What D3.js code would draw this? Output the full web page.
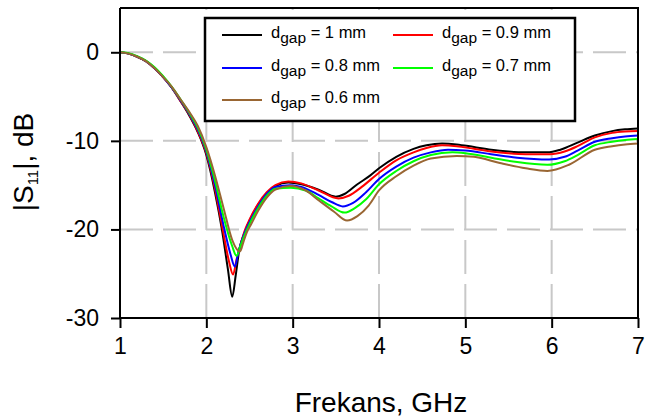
<!DOCTYPE html>
<html>
<head>
<meta charset="utf-8">
<script src="https://cdnjs.cloudflare.com/ajax/libs/d3/7.8.5/d3.min.js"></script>
<style>
body { margin: 0; background: #fff; }
text { font-family: "Liberation Sans", Arial, sans-serif; fill: #000; }
</style>
</head>
<body>
<script>
(function(){

//frequencies (GHz) and |S11| (dB), one pair of arrays per gap
var f_10 = [1,1.1,1.2,1.3,1.4,1.5,1.6,1.7,1.8,1.9,2.0,2.1,2.18,2.25,2.3,2.34,2.38,2.45,2.5,2.6,2.7,2.8,2.95,3.1,3.3,3.5,3.6,3.75,3.9,4.0,4.2,4.4,4.55,4.73,4.9,5.1,5.3,5.5,5.7,5.95,6.1,6.3,6.5,6.7,6.85,7.0];
var s_10 = [0,-0.15,-0.5,-1.0,-1.8,-2.8,-4.0,-5.5,-7.1,-9.0,-11.6,-15.8,-20,-24.5,-27.6,-25.2,-22.4,-20.2,-19.0,-17.2,-15.9,-15.1,-14.7,-14.9,-15.5,-16.3,-16.0,-14.9,-13.9,-13.1,-11.8,-10.9,-10.5,-10.3,-10.4,-10.7,-11.0,-11.2,-11.3,-11.3,-11.0,-10.2,-9.4,-8.9,-8.7,-8.6];

var f_09 = [1,1.1,1.2,1.3,1.4,1.5,1.6,1.7,1.8,1.9,2.0,2.1,2.19,2.26,2.31,2.35,2.4,2.45,2.5,2.6,2.7,2.8,2.95,3.1,3.3,3.53,3.65,3.8,4.0,4.2,4.4,4.55,4.73,4.9,5.1,5.3,5.5,5.7,5.98,6.15,6.3,6.5,6.7,6.85,7.0];
var s_09 = [0,-0.15,-0.5,-1.0,-1.8,-2.8,-4.0,-5.5,-7.0,-8.9,-11.4,-15.4,-20,-23.5,-25.1,-23.4,-21.6,-20.0,-18.9,-17.1,-15.8,-15.0,-14.6,-14.8,-15.6,-16.5,-16.2,-15.2,-13.6,-12.2,-11.3,-10.8,-10.5,-10.6,-10.9,-11.2,-11.4,-11.5,-11.5,-11.2,-10.6,-9.6,-9.1,-8.95,-8.9];

var f_08 = [1,1.1,1.2,1.3,1.4,1.5,1.6,1.7,1.8,1.9,2.0,2.1,2.2,2.28,2.33,2.37,2.42,2.47,2.52,2.6,2.7,2.8,2.97,3.1,3.3,3.45,3.58,3.7,3.85,4.0,4.2,4.4,4.6,4.8,5.0,5.3,5.6,5.97,6.15,6.3,6.5,6.7,6.85,7.0];
var s_08 = [0,-0.15,-0.5,-1.0,-1.8,-2.8,-4.0,-5.4,-6.9,-8.7,-11.2,-15.0,-19.6,-22.8,-24.2,-22.6,-21.0,-19.8,-18.8,-17.4,-16.0,-15.2,-15.0,-15.2,-16.1,-16.9,-17.4,-17.0,-15.8,-14.3,-12.9,-11.9,-11.3,-11.0,-11.1,-11.5,-11.9,-12.1,-11.8,-11.1,-10.1,-9.7,-9.5,-9.4];

var f_07 = [1,1.1,1.2,1.3,1.4,1.5,1.6,1.7,1.8,1.9,2.0,2.1,2.2,2.3,2.35,2.39,2.44,2.5,2.6,2.7,2.8,2.98,3.15,3.3,3.45,3.6,3.72,3.85,4.0,4.2,4.4,4.6,4.85,5.0,5.3,5.6,5.95,6.15,6.3,6.5,6.7,6.85,7.0];
var s_07 = [0,-0.1,-0.45,-0.95,-1.7,-2.7,-3.9,-5.3,-6.8,-8.5,-11.0,-14.5,-18.6,-21.9,-23.0,-22.0,-20.7,-19.4,-17.6,-16.2,-15.4,-15.3,-15.6,-16.5,-17.4,-18.1,-17.6,-16.6,-14.9,-13.4,-12.3,-11.6,-11.3,-11.4,-11.9,-12.4,-12.7,-12.3,-11.6,-10.5,-10.1,-9.9,-9.8];

var f_06 = [1,1.1,1.2,1.3,1.4,1.5,1.6,1.7,1.8,1.9,2.0,2.1,2.2,2.3,2.39,2.43,2.47,2.52,2.6,2.7,2.8,2.97,3.15,3.3,3.48,3.63,3.75,3.88,4.0,4.2,4.4,4.6,4.9,5.1,5.4,5.7,5.95,6.2,6.5,6.7,6.85,7.0];
var s_06 = [0,-0.15,-0.5,-1.0,-1.8,-2.8,-3.9,-5.3,-6.7,-8.3,-10.7,-13.9,-17.6,-21.2,-22.5,-21.4,-20.3,-19.4,-17.9,-16.4,-15.5,-15.1,-15.6,-16.7,-18.0,-19.0,-18.5,-17.3,-15.6,-14.0,-12.8,-12.0,-11.7,-11.8,-12.5,-13.1,-13.4,-12.7,-11.0,-10.6,-10.4,-10.3];

var gaps = ["1", "0.9", "0.8", "0.7", "0.6"];           //legend values, mm
var colors = ["#000000", "#ff0000", "#0000ff", "#00ff00", "#996633"];
var xTicks = [1, 2, 3, 4, 5, 6, 7];
var yTicks = [0, -10, -20, -30];

var freqs = [f_10, f_09, f_08, f_07, f_06],
    vals = [s_10, s_09, s_08, s_07, s_06];

window.onload = drawChart();

function drawChart(){
    var width = 646, height = 419,
        left = 120, right = 638, top = 8, bottom = 318;

    var svg = d3.select("body")
        .append("svg")
        .attr("width", width)
        .attr("height", height);

    var x = d3.scaleLinear().domain([1, 7]).range([left, right]);
    var y = d3.scaleLinear().domain([-30, 5]).range([bottom, top]);

    //dashed grey grid
    svg.selectAll(".hgrid")
        .data(yTicks.filter(function(d){ return d > -30; }))
        .enter()
        .append("line")
        .attr("x1", left).attr("x2", right)
        .attr("y1", function(d){ return y(d); })
        .attr("y2", function(d){ return y(d); })
        .style("stroke", "#c8c8c8")
        .style("stroke-width", 2)
        .style("stroke-dasharray", "33,10");

    svg.selectAll(".vgrid")
        .data(xTicks.filter(function(d){ return d > 1 && d < 7; }))
        .enter()
        .append("line")
        .attr("x1", function(d){ return x(d); })
        .attr("x2", function(d){ return x(d); })
        .attr("y1", bottom).attr("y2", top)
        .style("stroke", "#c8c8c8")
        .style("stroke-width", 2)
        .style("stroke-dasharray", "34,10");

    //curves
    var line = d3.line()
        .x(function(d){ return x(d[0]); })
        .y(function(d){ return y(d[1]); })
        .curve(d3.curveMonotoneX);

    freqs.forEach(function(fs, i){
        var pts = fs.map(function(f, j){ return [f, vals[i][j]]; });
        svg.append("path")
            .datum(pts)
            .attr("d", line)
            .style("fill", "none")
            .style("stroke", colors[i])
            .style("stroke-width", 2);
    });

    //frame (top and right)
    svg.append("path")
        .attr("d", "M" + left + "," + top + "H" + right + "V" + bottom)
        .style("fill", "none")
        .style("stroke", "#000")
        .style("stroke-width", 2);

    //axes, plain hyphen for negatives like the original
    var fmt = function(d){ return String(d); };
    var xAxis = svg.append("g")
        .attr("transform", "translate(0," + bottom + ")")
        .call(d3.axisBottom(x).tickValues(xTicks).tickSize(10).tickPadding(10).tickFormat(fmt));
    var yAxis = svg.append("g")
        .attr("transform", "translate(" + left + ",0)")
        .call(d3.axisLeft(y).tickValues(yTicks).tickSize(9).tickPadding(12).tickFormat(fmt));

    [xAxis, yAxis].forEach(function(ax){
        ax.select(".domain").remove();
        ax.selectAll("line").style("stroke", "#000").style("stroke-width", 2);
        ax.selectAll("text")
            .style("font-family", "'Liberation Sans', Arial, sans-serif")
            .style("font-size", "23px")
            .style("fill", "#000");
    });
    svg.append("path")
        .attr("d", "M" + left + "," + top + "V" + bottom + "H" + right)
        .style("fill", "none")
        .style("stroke", "#000")
        .style("stroke-width", 2);

    //axis titles
    svg.append("text")
        .attr("x", 381).attr("y", 412)
        .attr("text-anchor", "middle")
        .style("font-size", "28px")
        .text("Frekans, GHz");

    var yt = svg.append("text")
        .attr("transform", "translate(33,162) rotate(-90)")
        .attr("text-anchor", "middle")
        .style("font-size", "28px");
    yt.append("tspan").text("|S");
    yt.append("tspan").attr("dy", 5).style("font-size", "15px").text("11");
    yt.append("tspan").attr("dy", -5).text("|, dB");

    //legend
    var lg = svg.append("g");
    lg.append("rect")
        .attr("x", 205).attr("y", 18)
        .attr("width", 370).attr("height", 103)
        .style("fill", "#fff")
        .style("stroke", "#000")
        .style("stroke-width", 2.5);

    var colX = [222, 393], rowY = [35, 68, 100];
    gaps.forEach(function(g, i){
        var cx = colX[i % 2], cy = rowY[Math.floor(i / 2)];
        lg.append("line")
            .attr("x1", cx).attr("x2", cx + 40)
            .attr("y1", cy).attr("y2", cy)
            .style("stroke", colors[i])
            .style("stroke-width", 2);
        var t = lg.append("text")
            .attr("x", cx + 49).attr("y", cy + 3)
            .style("font-size", "16.5px");
        t.append("tspan").text("d");
        t.append("tspan").attr("dy", 5).style("font-size", "15.5px").text("gap");
        t.append("tspan").attr("dy", -5).text(" = " + g + " mm");
    });
};

})();
</script>
</body>
</html>
